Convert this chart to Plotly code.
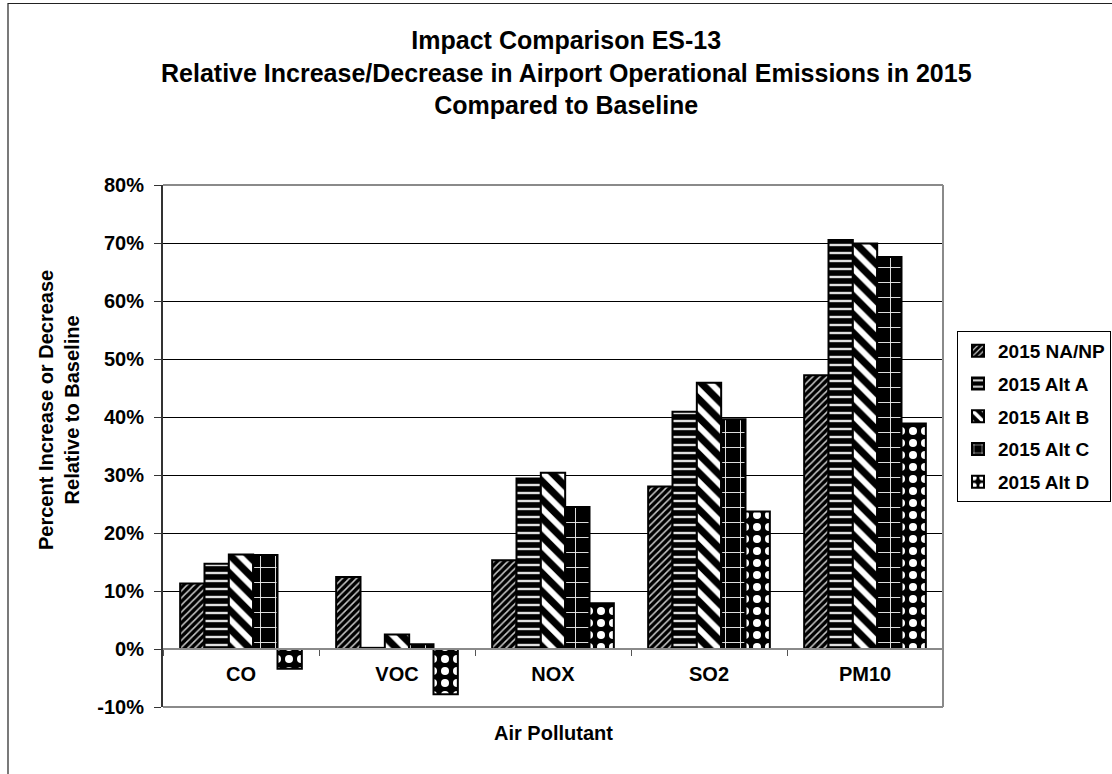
import plotly.graph_objects as go

categories = ["CO", "VOC", "NOX", "SO2", "PM10"]
series_names = ["2015 NA/NP", "2015 Alt A", "2015 Alt B", "2015 Alt C", "2015 Alt D"]
na_np = [11.3, 12.4, 15.3, 28.0, 47.2]
alt_a = [14.7, 0.2, 29.4, 40.9, 70.5]
alt_b = [16.3, 2.5, 30.4, 45.9, 69.9]
alt_c = [16.2, 0.8, 24.5, 39.6, 67.6]
alt_d = [-3.4, -7.8, 7.9, 23.7, 38.9]
y_ticks = [-10, 0, 10, 20, 30, 40, 50, 60, 70, 80]
y_tick_labels = ["-10%", "0%", "10%", "20%", "30%", "40%", "50%", "60%", "70%", "80%"]

FONT = "Liberation Sans, Arial, sans-serif"

patterns = [
    dict(shape="/", bgcolor="black", fgcolor="#c8c8c8", size=5, solidity=0.3),
    dict(shape="-", bgcolor="black", fgcolor="#e0e0e0", size=8, solidity=0.3),
    dict(shape="\\", bgcolor="black", fgcolor="white", size=13, solidity=0.45),
    dict(shape="+", bgcolor="black", fgcolor="#eeeeee", size=15, solidity=0.12),
    dict(shape=".", bgcolor="black", fgcolor="white", size=12, solidity=0.35),
]
values = [na_np, alt_a, alt_b, alt_c, alt_d]

fig = go.Figure()
for i, (name, vals, pat) in enumerate(zip(series_names, values, patterns)):
    fig.add_trace(go.Bar(
        x=categories, y=vals, name=name, legendgroup=f"g{i}",
        marker=dict(color="black", pattern=dict(fillmode="replace", **pat),
                    line=dict(color="black", width=2)),
    ))

# plot area: left 163, right 943, top 185, bottom 707
L, R, T, B = 163, 943, 185, 707
W, H = 1112, 774
pw, ph = R - L, B - T

def px(x):
    return (x - L) / pw

def py(y):
    return (B - y) / ph

line_gray = "#8a8a8a"
shapes = [
    dict(type="line", xref="paper", yref="paper", x0=0, x1=1, y0=1, y1=1,
         line=dict(color=line_gray, width=2), layer="above"),
    dict(type="line", xref="paper", yref="paper", x0=1, x1=1, y0=0, y1=1,
         line=dict(color=line_gray, width=2), layer="above"),
    dict(type="line", xref="paper", yref="paper", x0=0, x1=1, y0=0, y1=0,
         line=dict(color=line_gray, width=2), layer="above"),
    dict(type="rect", xref="paper", yref="paper", x0=px(8), x1=px(1130),
         y0=py(790), y1=py(3.5), line=dict(color="#222", width=1.2)),
]

annotations = [
    dict(text="<b>Impact Comparison ES-13<br>Relative Increase/Decrease in Airport Operational Emissions in 2015<br>Compared to Baseline</b>",
         xref="paper", yref="paper", x=px(566), y=py(73), xanchor="center", yanchor="middle",
         showarrow=False, font=dict(family=FONT, size=25, color="black")),
    dict(text="<b>Percent Increase or Decrease<br>Relative to Baseline</b>",
         xref="paper", yref="paper", x=px(59), y=py(410), xanchor="center", yanchor="middle",
         textangle=-90, showarrow=False, font=dict(family=FONT, size=20, color="black")),
    dict(text="<b>Air Pollutant</b>",
         xref="paper", yref="paper", x=px(553), y=py(733), xanchor="center", yanchor="middle",
         showarrow=False, font=dict(family=FONT, size=20, color="black")),
]

fig.update_layout(
    width=W, height=H,
    margin=dict(l=L, r=W - R, t=T, b=H - B, autoexpand=False),
    paper_bgcolor="white", plot_bgcolor="white",
    barmode="group", bargap=0.22, bargroupgap=0,
    font=dict(family=FONT, size=20, color="black"),
    shapes=shapes, annotations=annotations,
    legend=dict(x=px(957), y=py(331), xanchor="left", yanchor="top",
                bgcolor="white", bordercolor="black", borderwidth=1,
                font=dict(family=FONT, size=19, color="black", weight="bold"),
                tracegroupgap=5, traceorder="grouped"),
    xaxis=dict(type="category", anchor="free", position=10 / 90,
               showline=True, linecolor=line_gray, linewidth=2,
               ticks="outside", tickson="boundaries", ticklen=6, tickcolor="#555", tickwidth=1,
               ticklabelstandoff=7,
               showgrid=False, zeroline=False,
               tickfont=dict(family=FONT, size=20, color="black", weight="bold")),
    yaxis=dict(range=[-10, 80], tickvals=y_ticks, ticktext=y_tick_labels,
               showline=True, linecolor="#333", linewidth=2,
               ticks="outside", ticklen=7, tickcolor="#333", tickwidth=1,
               ticklabelstandoff=6,
               showgrid=True, gridcolor="black", gridwidth=1, zeroline=False,
               tickfont=dict(family=FONT, size=20, color="black", weight="bold")),
)

fig.write_html("out.html")
